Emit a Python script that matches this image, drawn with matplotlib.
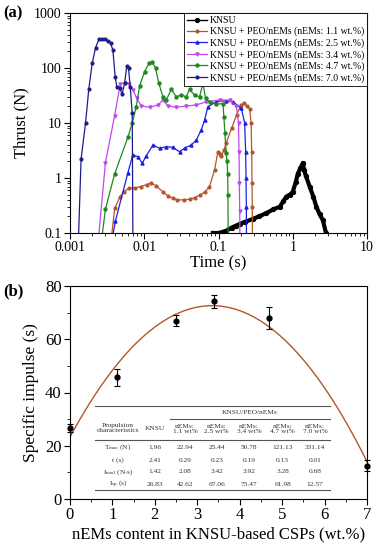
import numpy as np
import matplotlib
matplotlib.use('agg')
import matplotlib.pyplot as plt
from matplotlib.lines import Line2D

plt.rcParams.update({
    'font.family': ['Liberation Serif', 'DejaVu Serif'],
    'mathtext.default': 'regular',
    'axes.linewidth': 0.8,
})

# ---- (a) thrust vs time
t_knsu = [0.084, 0.10, 0.115, 0.127, 0.15, 0.17, 0.193, 0.23, 0.29, 0.35, 0.44,
          0.55, 0.667, 0.75, 0.82, 0.92, 1.0, 1.1, 1.17, 1.27, 1.37, 1.42, 1.5,
          1.69, 1.9, 2.08, 2.3, 2.55, 2.8, 2.9]
f_knsu = [0.1, 0.1, 0.105, 0.11, 0.125, 0.135, 0.146, 0.16, 0.18, 0.2, 0.23,
          0.27, 0.30, 0.38, 0.46, 0.5, 0.56, 0.85, 1.2, 1.5, 1.87, 1.4, 1.1,
          0.7, 0.45, 0.30, 0.22, 0.17, 0.1, 0.08]

t_11 = [0.0036, 0.0040, 0.0047, 0.0053, 0.0063, 0.0075, 0.0090, 0.0108, 0.0124,
        0.0145, 0.0178, 0.0210, 0.0243, 0.028, 0.034, 0.041, 0.048, 0.056, 0.066,
        0.0756, 0.0885, 0.098, 0.104, 0.109, 0.118, 0.127, 0.15, 0.175, 0.200,
        0.22, 0.245, 0.263, 0.275, 0.280, 0.283, 0.285, 0.287]
f_11 = [0.08, 0.28, 0.45, 0.56, 0.66, 0.66, 0.70, 0.76, 0.81,
        0.72, 0.56, 0.47, 0.43, 0.40, 0.40, 0.41, 0.44, 0.49, 0.56,
        0.70, 1.4, 3.0, 2.7, 2.5, 3.2, 4.3, 8.0, 14, 21,
        22.9, 20, 18, 10, 3, 0.8, 0.3, 0.08]

t_25 = [0.0037, 0.0041, 0.0060, 0.0070, 0.0082, 0.0094, 0.0106, 0.0131, 0.0161,
        0.0198, 0.0243, 0.0299, 0.0349, 0.043, 0.0502, 0.0586, 0.065, 0.072,
        0.0934, 0.127, 0.156, 0.203, 0.225, 0.232, 0.235, 0.237, 0.238]
f_25 = [0.08, 0.167, 1.22, 2.62, 2.45, 1.86, 2.51, 3.98, 3.46,
        3.7, 3.6, 3.0, 3.5, 3.98, 4.9, 7.46, 11.3, 19.8,
        24.4, 25.4, 24.4, 18.5, 10, 3, 1, 0.3, 0.08]

t_34 = [0.00242, 0.0030, 0.00398, 0.00475, 0.00543, 0.00621, 0.00703, 0.00797,
        0.00912, 0.0118, 0.0153, 0.0178, 0.0208, 0.027, 0.0368, 0.0502, 0.0686,
        0.104, 0.141, 0.174, 0.186, 0.189, 0.191, 0.193, 0.194]
f_34 = [0.08, 1.90, 13.4, 50.8, 54, 51, 39.8, 28,
        20.4, 19.3, 21.2, 26.2, 20.4, 19.3, 20.4, 21.2, 24.4,
        26.2, 26, 20.4, 10, 3, 0.8, 0.25, 0.08]

t_47 = [0.00268, 0.0030, 0.00398, 0.00601, 0.00689, 0.0078, 0.00865, 0.0101,
        0.01154, 0.01282, 0.0142, 0.01574, 0.0178, 0.0198, 0.0231, 0.027, 0.0316,
        0.0368, 0.0408, 0.0476, 0.0556, 0.0617, 0.067, 0.0759, 0.0934, 0.115,
        0.118, 0.122, 0.127, 0.130, 0.133, 0.134, 0.135]
f_47 = [0.08, 0.27, 1.17, 5.5, 9.9, 19.8, 47, 85.7,
        121, 130, 98.6, 52.6, 30.1, 26.2, 41, 30, 32.3,
        30, 41, 32, 30, 52.6, 28, 24.4, 22.1, 22.5,
        13, 6.6, 2.8, 2.0, 1.2, 0.5, 0.08]

t_70 = [0.00130, 0.00141, 0.00162, 0.00179, 0.00199, 0.00221, 0.00245, 0.00268,
        0.00292, 0.00324, 0.00352, 0.00378, 0.00406, 0.00428, 0.00465, 0.00505,
        0.00543, 0.00583, 0.00614, 0.00647, 0.00689, 0.00703]
f_70 = [0.08, 2.2, 10.1, 41, 122, 234, 331, 340,
        332, 314, 281, 212, 69, 44.6, 42.7, 33.7,
        52.6, 110, 98.6, 45.7, 15, 0.08]

labels_a = ['KNSU',
            'KNSU + PEO/nEMs (nEMs: 1.1 wt.%)',
            'KNSU + PEO/nEMs (nEMs: 2.5 wt.%)',
            'KNSU + PEO/nEMs (nEMs: 3.4 wt.%)',
            'KNSU + PEO/nEMs (nEMs: 4.7 wt.%)',
            'KNSU + PEO/nEMs (nEMs: 7.0 wt.%)']

# ---- (b) specific impulse vs nEMs content
nems = [0, 1.1, 2.5, 3.4, 4.7, 7.0]
isp = [26.8, 45.7, 67.0, 74.2, 68.1, 12.5]
isp_err = [1.5, 3.2, 2.2, 2.4, 4.1, 2.0]

# table inside (b)
tab_cols = ['nEMs:\n1.1 wt%', 'nEMs:\n2.5 wt%', 'nEMs:\n3.4 wt%',
            'nEMs:\n4.7 wt%', 'nEMs:\n7.0 wt%']
tab_rows = [r'T$_{max}$ (N)', 't (s)', r'I$_{total}$ (N$\cdot$s)', r'I$_{sp}$ (s)']
tab_knsu = ['1.96', '2.41', '1.42', '26.83']
tab_vals = [['22.94', '25.44', '50.78', '121.13', '331.14'],
            ['0.29', '0.23', '0.19', '0.13', '0.01'],
            ['2.08', '3.42', '3.92', '3.28', '0.68'],
            ['42.62', '67.06', '75.47', '61.98', '12.57']]

fig = plt.figure(figsize=(3.8, 5.5), dpi=100)
ax1 = fig.add_axes([70/380, 1-233/550, 297/380, 220/550])
ax2 = fig.add_axes([70/380, 1-499/550, 297/380, 213/550])

styles = [('black', 'o', 3.0, 2.8),
          ('#b4562a', 'o', 0.9, 2.0),
          ('#2020e0', '^', 0.9, 2.2),
          ('#c048ee', 'v', 0.9, 2.2),
          ('#1e8a1e', 'o', 0.9, 2.2),
          ('#1c1c8a', 'o', 0.9, 2.0)]
curves = [(t_knsu, f_knsu), (t_11, f_11), (t_25, f_25),
          (t_34, f_34), (t_47, f_47), (t_70, f_70)]
for (t, f), (c, m, lw, ms), lab in zip(curves, styles, labels_a):
    ax1.plot(t, f, color=c, marker=m, lw=lw, ms=ms, label=lab)

ax1.set_xscale('log')
ax1.set_yscale('log')
ax1.set_xlim(0.001, 10)
ax1.set_ylim(0.1, 1000)
ax1.set_xticks([0.001, 0.01, 0.1, 1, 10], labels=['0.001', '0.01', '0.1', '1', '10'])
ax1.set_yticks([0.1, 1, 10, 100, 1000], labels=['0.1', '1', '10', '100', '1000'])
ax1.tick_params(which='both', direction='out', labelsize=10, pad=2)
ax1.tick_params(which='major', length=4, width=0.8)
ax1.tick_params(which='minor', length=2, width=0.6)
ax1.set_xlabel('Time (s)', fontsize=12, labelpad=1)
ax1.set_ylabel('Thrust (N)', fontsize=12, labelpad=3)
leg = ax1.legend(loc='upper right', borderaxespad=0, fontsize=7, fancybox=False,
                 edgecolor='black', framealpha=1, handlelength=2.0,
                 handletextpad=0.3, labelspacing=0.2, borderpad=0.3)
leg.get_frame().set_linewidth(0.6)
leg.legend_handles[0].set_linewidth(1.0)

# (b)
coef = np.polyfit(nems, isp, 2)
xf = np.linspace(0, 7, 200)
ax2.plot(xf, np.polyval(coef, xf), color='#b4562a', lw=1.0, zorder=2)
ax2.errorbar(nems, isp, yerr=isp_err, fmt='o', color='black', ms=3.5,
             capsize=2.2, elinewidth=0.8, capthick=0.8, clip_on=False, zorder=3)
ax2.set_xlim(0, 7)
ax2.set_ylim(0, 80)
ax2.set_xticks(range(0, 8))
ax2.set_xticks(np.arange(0.5, 7, 1), minor=True)
ax2.set_yticks(range(0, 81, 20))
ax2.set_yticks(range(10, 80, 20), minor=True)
ax2.tick_params(which='both', direction='out', labelsize=12, pad=2)
ax2.tick_params(which='major', length=4, width=0.8)
ax2.tick_params(which='minor', length=2.5, width=0.6)
ax2.set_xlabel('nEMs content in KNSU-based CSPs (wt.%)', fontsize=12, labelpad=2)
ax2.set_ylabel('Specific impulse (s)', fontsize=12.5, labelpad=4)

# table drawn inside panel (b), axes-fraction coordinates
tr = ax2.transAxes
tc = '#333333'
for x0, x1, y in [(0.084, 0.875, 0.437), (0.337, 0.875, 0.376),
                  (0.084, 0.875, 0.277), (0.084, 0.875, 0.042)]:
    ax2.add_line(Line2D([x0, x1], [y, y], transform=tr, color='#555555', lw=0.8))
fs = 5.3
col_x = [0.387, 0.494, 0.603, 0.716, 0.825]
row_y = [0.244, 0.183, 0.127, 0.070]
ax2.text(0.162, 0.333, 'Propulsion\ncharacteristics', transform=tr, fontsize=fs,
         ha='center', va='center', color=tc, linespacing=1.1)
ax2.text(0.286, 0.333, 'KNSU', transform=tr, fontsize=fs, ha='center', va='center', color=tc)
ax2.text(0.606, 0.404, 'KNSU/PEO/nEMs', transform=tr, fontsize=fs,
         ha='center', va='center', color=tc)
for x, lab in zip(col_x, tab_cols):
    ax2.text(x, 0.329, lab, transform=tr, fontsize=fs, ha='center', va='center',
             color=tc, linespacing=1.2)
for y, rl, kv, vals in zip(row_y, tab_rows, tab_knsu, tab_vals):
    ax2.text(0.162, y, rl, transform=tr, fontsize=fs, ha='center', va='center', color=tc)
    ax2.text(0.286, y, kv, transform=tr, fontsize=fs, ha='center', va='center', color=tc)
    for x, v in zip(col_x, vals):
        ax2.text(x, y, v, transform=tr, fontsize=fs, ha='center', va='center', color=tc)

fig.text(3/380, 1-13/550, '(a)', fontsize=12, fontweight='bold', va='center')
fig.text(3/380, 1-291/550, '(b)', fontsize=12, fontweight='bold', va='center')

fig.savefig('out.png', dpi=100)
